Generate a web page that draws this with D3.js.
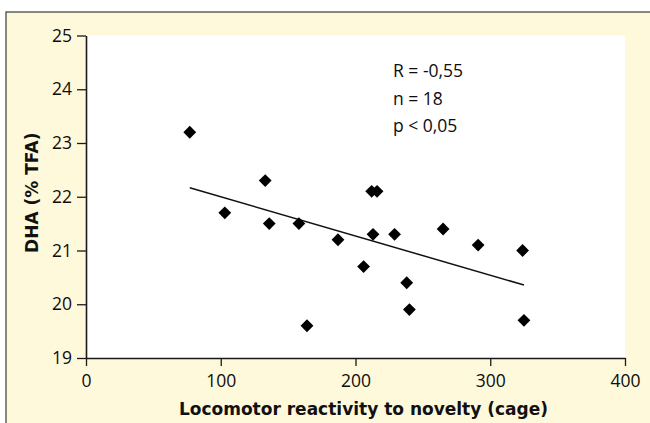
<!DOCTYPE html>
<html>
<head>
<meta charset="utf-8">
<script src="https://cdn.jsdelivr.net/npm/d3@7"></script>
<style>
  html, body { margin: 0; padding: 0; background: #ffffff; }
  svg { display: block; }
</style>
</head>
<body>
<svg id="chart" width="650" height="423"></svg>
<script>
// Locomotor reactivity (x) vs DHA content (y), one entry per animal
const locomotor = [77, 103, 133, 136, 158, 164, 187, 206, 212, 216, 213, 229, 238, 240, 265, 291, 324, 325];
const dha       = [23.2, 21.7, 22.3, 21.5, 21.5, 19.6, 21.2, 20.7, 22.1, 22.1, 21.3, 21.3, 20.4, 19.9, 21.4, 21.1, 21.0, 19.7];
const xTicks = [0, 100, 200, 300, 400];
const yTicks = [19, 20, 21, 22, 23, 24, 25];
const statsLines = ["R = -0,55", "n = 18", "p < 0,05"];

const svg = d3.select("#chart");
const W = 650, H = 423;

const frame = { left: 6, top: 12 };
const plot = { left: 86, right: 625, top: 35.5, bottom: 358 };

// cream panel with a thin border on its top and left sides
svg.append("rect")
  .attr("x", frame.left).attr("y", frame.top)
  .attr("width", W - frame.left + 5).attr("height", H - frame.top + 5)
  .attr("fill", "#fff9dc")
  .attr("stroke", "#3a3a3a").attr("stroke-width", 1.2);

const x = d3.scaleLinear().domain([0, 400]).range([plot.left, plot.right]);
const y = d3.scaleLinear().domain([19, 25]).range([plot.bottom, plot.top]);

// white plotting area
svg.append("rect")
  .attr("x", plot.left).attr("y", plot.top)
  .attr("width", plot.right - plot.left).attr("height", plot.bottom - plot.top)
  .attr("fill", "#ffffff");

const tickFont = "'Open Sans', 'Noto Sans', sans-serif";

const xAxis = svg.append("g")
  .attr("transform", `translate(0,${plot.bottom})`)
  .call(d3.axisBottom(x).tickValues(xTicks).tickFormat(d3.format("d"))
    .tickSize(8).tickSizeOuter(0).tickPadding(9));

const yAxis = svg.append("g")
  .attr("transform", `translate(${plot.left},0)`)
  .call(d3.axisLeft(y).tickValues(yTicks).tickFormat(d3.format("d"))
    .tickSize(9).tickSizeOuter(0).tickPadding(5));

[xAxis, yAxis].forEach(g => {
  g.select(".domain").attr("stroke", "#1a1a1a").attr("stroke-width", 1.6);
  g.selectAll(".tick line").attr("stroke", "#1a1a1a").attr("stroke-width", 1.3);
  g.selectAll(".tick text")
    .attr("fill", "#0d0d0d")
    .style("font-family", tickFont)
    .style("font-size", "17.5px");
});

// axis titles
svg.append("text")
  .attr("x", (plot.left + plot.right) / 2 + 8)
  .attr("y", 415)
  .attr("text-anchor", "middle")
  .style("font-family", "'DejaVu Sans', sans-serif")
  .style("font-weight", "bold")
  .style("font-size", "17px")
  .attr("fill", "#111")
  .text("Locomotor reactivity to novelty (cage)");

svg.append("text")
  .attr("transform", `translate(37.5,${(plot.top + plot.bottom) / 2 - 4}) rotate(-90)`)
  .attr("text-anchor", "middle")
  .style("font-family", "'DejaVu Sans', sans-serif")
  .style("font-weight", "bold")
  .style("font-size", "17px")
  .attr("fill", "#111")
  .text("DHA (% TFA)");

// least-squares trend line over the observed range
const pts = locomotor.map((v, i) => ({ x: v, y: dha[i] }));
const mx = d3.mean(pts, d => d.x), my = d3.mean(pts, d => d.y);
const slope = d3.sum(pts, d => (d.x - mx) * (d.y - my)) / d3.sum(pts, d => (d.x - mx) ** 2);
const intercept = my - slope * mx;
const [x0, x1] = d3.extent(locomotor);
svg.append("line")
  .attr("x1", x(x0)).attr("y1", y(intercept + slope * x0))
  .attr("x2", x(x1)).attr("y2", y(intercept + slope * x1))
  .attr("stroke", "#111").attr("stroke-width", 1.5);

// diamond markers
const diamond = d3.symbol().type(d3.symbolSquare).size(82);
svg.append("g").selectAll("path")
  .data(pts)
  .join("path")
  .attr("d", diamond)
  .attr("transform", d => `translate(${x(d.x)},${y(d.y)}) rotate(45)`)
  .attr("fill", "#000");

// statistics annotation
svg.append("g").selectAll("text")
  .data(statsLines)
  .join("text")
  .attr("x", 393)
  .attr("y", (d, i) => 77 + i * 27.5)
  .style("font-family", tickFont)
  .style("font-size", "17.5px")
  .attr("fill", "#0d0d0d")
  .text(d => d);
</script>
</body>
</html>
